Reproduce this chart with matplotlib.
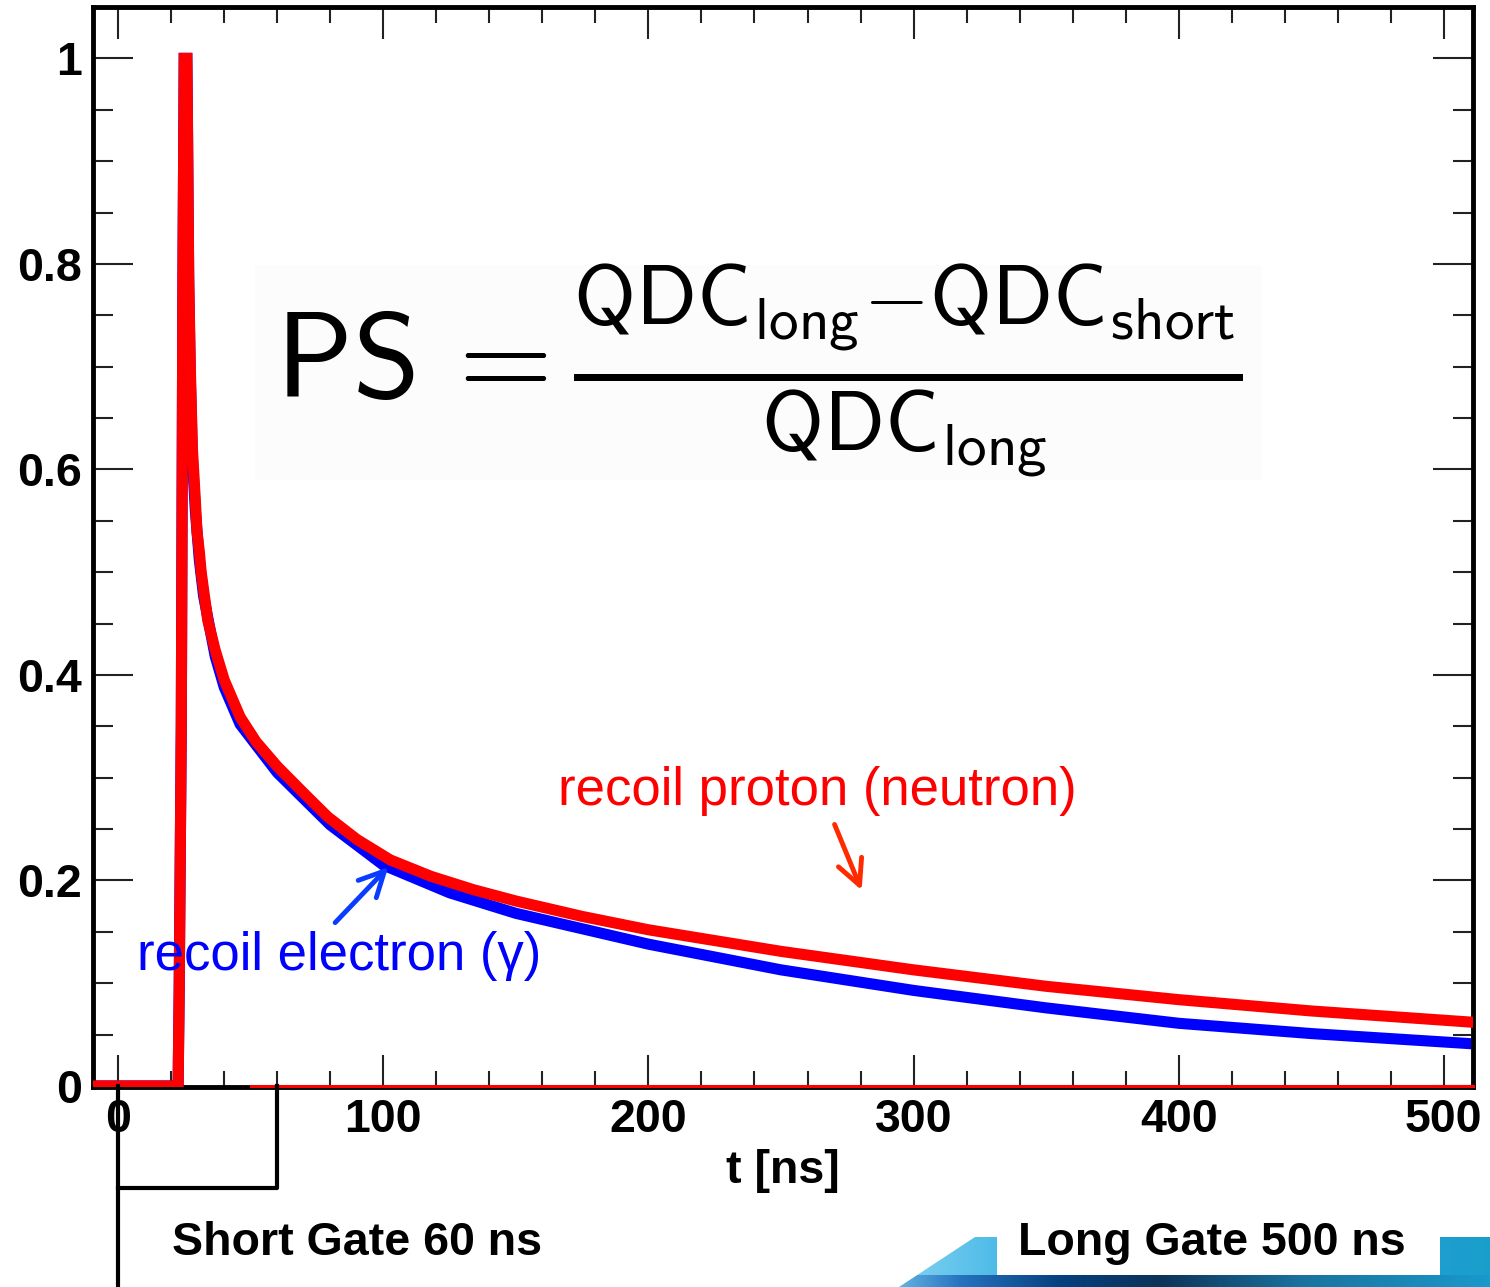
import numpy as np
import matplotlib.pyplot as plt
from matplotlib.patches import Rectangle, Polygon
from matplotlib.ticker import FixedLocator, MultipleLocator, FixedFormatter

plt.rcParams['font.family'] = ['Liberation Sans', 'DejaVu Sans']
plt.rcParams['mathtext.fontset'] = 'cm'

# averaged pulse shapes (normalised amplitude vs time in ns)
proton_t = [-9.5, 22.6, 23.0, 23.8, 24.4, 24.9, 25.9, 26.2, 26.6, 27.2, 28.0, 29.1,
            29.7, 30.6, 31.3, 32.2, 33.8, 36.6, 40.0, 46.0, 52.0, 60.0, 70.0, 79.0,
            90.0, 102.6, 118.0, 134.0, 150.0, 175.0, 200.0, 250.0, 300.0, 350.0,
            400.0, 450.0, 511.0]
proton_v = [0, 0, 0.09, 0.35, 0.78, 1.0, 1.0, 0.92, 0.79, 0.70, 0.62, 0.57,
            0.54, 0.52, 0.50, 0.483, 0.453, 0.424, 0.395, 0.359, 0.335, 0.311, 0.285, 0.262,
            0.240, 0.220, 0.204, 0.191, 0.180, 0.165, 0.152, 0.131, 0.113, 0.097,
            0.084, 0.073, 0.062]

electron_t = [-9.5, 22.6, 23.0, 23.8, 24.4, 24.9, 25.9, 26.2, 26.6, 27.2, 28.0, 29.1,
              30.6, 32.2, 36.6, 40.0, 46.0, 60.0, 80.0, 100.0, 125.0, 150.0, 200.0, 250.0,
              300.0, 350.0, 400.0, 450.0, 511.0]
electron_v = [0, 0, 0.09, 0.35, 0.78, 1.0, 1.0, 0.91, 0.78, 0.69, 0.61, 0.56,
              0.512, 0.477, 0.418, 0.388, 0.352, 0.305, 0.254, 0.215, 0.188, 0.168, 0.138, 0.113,
              0.093, 0.076, 0.061, 0.051, 0.041]

x_ticks = [0, 100, 200, 300, 400, 500]
x_labels = ['0', '100', '200', '300', '400', '500']
y_ticks = [0, 0.2, 0.4, 0.6, 0.8, 1.0]
y_labels = ['0', '0.2', '0.4', '0.6', '0.8', '1']

short_gate = 60   # ns
long_gate = 500   # ns

W, H = 1490, 1287
fig = plt.figure(figsize=(W / 100, H / 100), dpi=100)
ax = fig.add_axes([93 / W, 1 - 1087 / H, (1473 - 93) / W, (1087 - 7) / H])

# faint panel behind the formula
ax.add_patch(Rectangle((255 / W, 1 - 480 / H), (1262 - 255) / W, (480 - 265) / H,
                       transform=fig.transFigure, fc='#fcfcfc', ec='none', zorder=0.5))

ax.plot(electron_t, electron_v, color='#0000ff', lw=8, solid_joinstyle='miter', zorder=2)
ax.plot(proton_t, proton_v, color='#ff0000', lw=8, solid_joinstyle='miter', zorder=3)
ax.plot([50, 511], [0, 0], color='#ff0000', lw=2.2, zorder=3, clip_on=False)

ax.set_xlim(-9.5, 511)
ax.set_ylim(-0.001, 1.05)

bold = dict(family='Liberation Sans', weight='bold', size=33.5)
ax.xaxis.set_major_locator(FixedLocator(x_ticks))
ax.xaxis.set_major_formatter(FixedFormatter(x_labels))
ax.xaxis.set_minor_locator(MultipleLocator(20))
ax.yaxis.set_major_locator(FixedLocator(y_ticks))
ax.yaxis.set_major_formatter(FixedFormatter(y_labels))
ax.yaxis.set_minor_locator(MultipleLocator(0.05))
ax.tick_params(which='both', direction='in', top=True, right=True, width=1.5, color='#222222')
ax.tick_params(axis='x', which='major', length=23, pad=8)
ax.tick_params(axis='x', which='minor', length=11.5)
ax.tick_params(axis='y', which='major', length=29, pad=8)
ax.tick_params(axis='y', which='minor', length=14.5)
for lab in ax.get_xticklabels() + ax.get_yticklabels():
    lab.set_fontproperties(bold)
for sp in ax.spines.values():
    sp.set_linewidth(3.5)
ax.set_xlabel('t [ns]', fontdict=bold, labelpad=5)

# pulse shape discrimination formula
ax.text(0.509, 1 - 371 / H,
        r'$\mathsf{PS\,= \frac{QDC_{long}{-}QDC_{short}}{QDC_{long}}}$',
        transform=fig.transFigure, fontsize=87, ha='center', va='center', zorder=4)

ax.text(166, 0.2735, 'recoil proton (neutron)', color='#ff0000', fontsize=38,
        ha='left', va='baseline', zorder=4)
ax.annotate('', xy=(280.8, 0.188), xytext=(269.8, 0.257),
            arrowprops=dict(arrowstyle='->,head_length=0.9,head_width=0.45',
                            color='#ff2a00', lw=3.5, mutation_scale=20), zorder=4)
ax.text(7.2, 0.113, 'recoil electron (γ)', color='#0000ff', fontsize=38,
        ha='left', va='baseline', zorder=4)
ax.annotate('', xy=(102.6, 0.215), xytext=(81.1, 0.157),
            arrowprops=dict(arrowstyle='->,head_length=0.9,head_width=0.45',
                            color='#0a3cff', lw=3.5, mutation_scale=20), zorder=4)

# integration gates below the axis
gate_y = (1086 - 1188) / 1027.5
ax.plot([0, 0], [0, -0.3], color='black', lw=3, clip_on=False, zorder=5)
ax.plot([0, short_gate, short_gate], [gate_y, gate_y, 0], color='black', lw=3,
        clip_on=False, zorder=5)

# slide footer decoration
deco = fig.add_axes([880 / W, 0, 610 / W, 50 / H])
deco.axis('off')
xs = np.linspace(880, 1490, 610)
top_rgb = np.array([np.interp(xs, [880, 1000, 1300, 1490], c) for c in
                    ([0.55, 0.30, 0.16, 0.10], [0.84, 0.73, 0.62, 0.62], [0.95, 0.91, 0.84, 0.80])]).T
bot_rgb = np.array([np.interp(xs, [880, 960, 1060, 1160, 1300, 1490], c) for c in
                    ([0.45, 0.15, 0.02, 0.05, 0.10, 0.10], [0.78, 0.45, 0.25, 0.20, 0.45, 0.60],
                     [0.93, 0.75, 0.50, 0.35, 0.62, 0.80])]).T
img = np.zeros((50, 610, 3))
img[:38] = top_rgb
img[38:] = bot_rgb
im = deco.imshow(img, extent=[880, 1490, 1287, 1237], aspect='auto')
deco.set_xlim(880, 1490)
deco.set_ylim(1287, 1237)
clip = Polygon([(899, 1287), (975, 1237), (1490, 1237), (1490, 1287)], closed=True,
               transform=deco.transData, fc='none', ec='none')
deco.add_patch(clip)
im.set_clip_path(clip)

fig.patches.append(Rectangle((997 / W, 1 - 1275 / H), (1440 - 997) / W, (1275 - 1197) / H,
                             transform=fig.transFigure, fc='white', ec='none', zorder=2))
fig.text(172 / W, 1 - 1255 / H, 'Short Gate %d ns' % short_gate, fontproperties=bold,
         ha='left', va='baseline')
fig.text(1018 / W, 1 - 1255 / H, 'Long Gate %d ns' % long_gate, fontproperties=bold,
         ha='left', va='baseline', zorder=3)

fig.savefig('out.png', dpi=100)
